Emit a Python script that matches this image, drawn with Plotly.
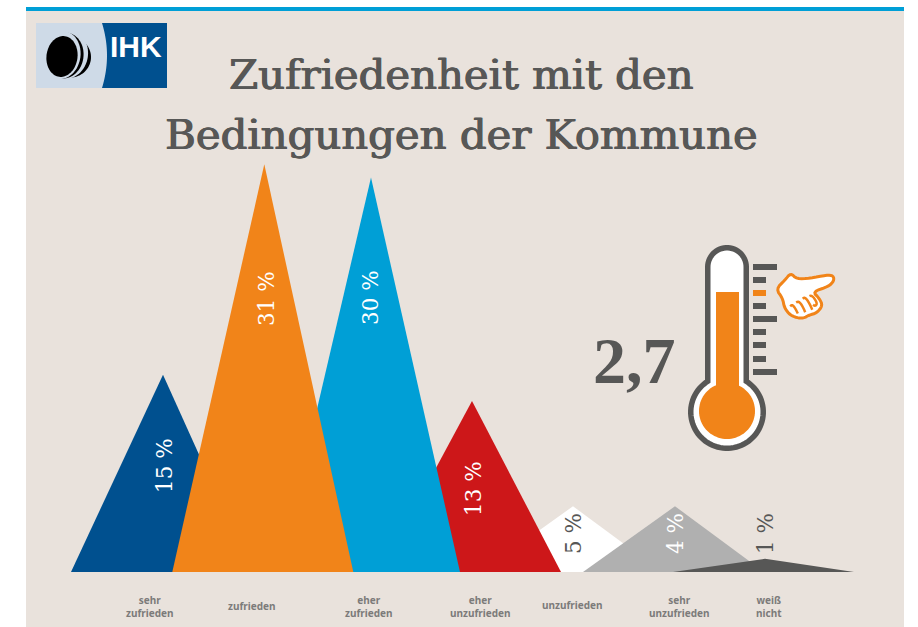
import numpy as np
import plotly.graph_objects as go

# --- data ---
categories = ["sehr<br>zufrieden", "zufrieden", "eher<br>zufrieden", "eher<br>unzufrieden",
              "unzufrieden", "sehr<br>unzufrieden", "weiß<br>nicht"]
value_labels = ["15 %", "31 %", "30 %", "13 %", "5 %", "4 %", "1 %"]
drawn_heights = [15, 31, 30, 13, 5, 5, 1]   # heights as drawn (the 4 % peak is as tall as the 5 % one)
title_lines = ["Zufriedenheit mit den", "Bedingungen der Kommune"]
mean_score = "2,7"

# --- layout helpers ---
W, H = 918, 627
BASE_PX, PX_PER_UNIT = 572, 13.15
apex_x = [163, 264.3, 371, 472, 573, 675, 765]
left_w, right_w = 92, 89
colors = ["#00508F", "#F18419", "#009FD6", "#CD1719", "#FFFFFF", "#B0B0B0", "#575756"]
draw_order = [4, 3, 2, 0, 1, 5, 6]
label_colors = ["#FFFFFF"] * 4 + ["#575756", "#FFFFFF", "#575756"]
label_px_x = [164, 266, 370, 473, 573, 675, 765]
label_px_y = [466, 299, 298, 489, 534, 534, 534]
cat_px_x = [150, 252, 369, 480, 572, 679, 769]
cat_px_y = [606, 606, 606, 606, 605, 606, 606]
DARK = "#575756"; ORANGE = "#F18419"; BEIGE = "#E9E2DC"


def val(py):
    return (BASE_PX - py) / PX_PER_UNIT


fig = go.Figure()
for i in draw_order:
    c, v = apex_x[i], drawn_heights[i]
    fig.add_trace(go.Scatter(x=[c - left_w, c, c + right_w, c - left_w], y=[0, v, 0, 0], mode="lines", fill="toself",
                             fillcolor=colors[i], line=dict(width=0), hoverinfo="skip", showlegend=False))

shapes, ann = [], []


def poly(pts, **kw):
    d = "M" + " L".join(f"{x:.2f},{val(y):.3f}" for x, y in pts) + " Z"
    shapes.append(dict(type="path", path=d, xref="x", yref="y", **kw))


def line_path(pts, color, width):
    d = "M" + " L".join(f"{x:.2f},{val(y):.3f}" for x, y in pts)
    shapes.append(dict(type="path", path=d, xref="x", yref="y", line=dict(color=color, width=width)))


def rect(x0, y0, x1, y1, color, layer="above"):
    shapes.append(dict(type="rect", xref="x", yref="y", x0=x0, x1=x1, y0=val(y0), y1=val(y1),
                       fillcolor=color, line=dict(width=0), layer=layer))


def ellipse(cx, cy, rx, ry, rot=0.0, n=80):
    t = np.linspace(0, 2 * np.pi, n, endpoint=False)
    a = np.radians(rot)
    x, y = rx * np.cos(t), ry * np.sin(t)
    return list(zip(cx + x * np.cos(a) - y * np.sin(a), cy + x * np.sin(a) + y * np.cos(a)))


def chaikin(pts, closed=True, n=2):
    for _ in range(n):
        out = []
        m = len(pts)
        for i in range(m if closed else m - 1):
            p, q = np.array(pts[i]), np.array(pts[(i + 1) % m])
            out += [tuple(.75 * p + .25 * q), tuple(.25 * p + .75 * q)]
        pts = out
    return pts


NOL = dict(line=dict(width=0))
# page furniture
rect(26, 11, 904, 627, BEIGE, layer="below")
rect(26, 7, 904, 11, "#009FD6", layer="below")

# logo
rect(36, 23, 167, 88, "#CEDAE7")
ys = np.linspace(23, 88, 30)
curve = [(107 - 5 * ((y - 55.5) / 32.5) ** 2, y) for y in ys]
poly(curve + [(167, 88), (167, 23)], fillcolor="#00508F", **NOL)
LB = "#CEDAE7"
poly(ellipse(70, 57, 21, 20.5, 8), fillcolor="#000000", **NOL)
poly(ellipse(66, 54, 22, 25, 8), fillcolor=LB, **NOL)
poly(ellipse(64.5, 55.5, 19, 23, 8), fillcolor="#000000", **NOL)
poly(ellipse(61.5, 55, 19, 24, 8), fillcolor=LB, **NOL)
poly(ellipse(62, 56.5, 15.5, 20.5, 8), fillcolor="#000000", **NOL)

# thermometer
cx, tube_top, tube_r, bulb_y, bulb_r = 727, 267, 19.25, 412, 36.25
ang = np.arcsin(tube_r / bulb_r)
t_top = np.linspace(np.pi, 2 * np.pi, 30)
t_b = np.linspace(-np.pi / 2 + ang, 3 * np.pi / 2 - ang, 70)
outline = [(cx + tube_r * np.cos(a), tube_top + tube_r * np.sin(a)) for a in t_top]
outline += [(cx + bulb_r * np.cos(a), bulb_y + bulb_r * np.sin(a)) for a in t_b]
poly(outline, fillcolor="#FFFFFF", line=dict(color=DARK, width=5.5))
poly(ellipse(cx, 411, 28, 28), fillcolor=ORANGE, **NOL)
rect(716, 292, 739, 395, ORANGE)
for i, y in enumerate([267, 280, 293, 306, 319, 332, 345, 359, 372]):
    long_tick = i in (0, 4, 8)
    rect(753, y - 3, 777 if long_tick else 766, y + 3, ORANGE if i == 2 else DARK)

# pointing hand (zoom-space outline converted to pixels)
to_px = lambda p: (670 + p[0] / 3, 235 + p[1] / 3)
hand = [(318, 162), (345, 135), (362, 114), (380, 132), (420, 130), (470, 120), (490, 122), (492, 138),
        (475, 155), (428, 170), (448, 190), (458, 212), (440, 234), (418, 240), (400, 250), (380, 248),
        (360, 240), (343, 218), (338, 190)]
poly([to_px(p) for p in chaikin(hand)], fillcolor="#FFFFFF", line=dict(color=ORANGE, width=3))
for seg in ([(358, 218), (366, 208), (376, 220), (388, 245)],
            [(374, 205), (386, 198), (398, 214), (410, 242)],
            [(394, 194), (405, 186), (418, 204), (432, 236)],
            [(414, 186), (426, 180), (442, 204), (436, 214), (425, 206)]):
    line_path([to_px(p) for p in chaikin(seg, closed=False)], ORANGE, 2.5)

# IHK lettering
ann.append(dict(x=136, y=val(46), text="<b>IHK</b>", font=dict(family="Liberation Sans", size=30, color="#FFFFFF"),
                showarrow=False, xanchor="center", yanchor="middle"))
# title
for line, py in zip(title_lines, [74, 134]):
    ann.append(dict(x=461, y=val(py), text=line, showarrow=False, xanchor="center", yanchor="middle",
                    font=dict(family="DejaVu Serif", size=41.8, color=DARK,
                              shadow="0.7px 0 0 #575756, -0.5px 0 0 #575756")))
# score
ann.append(dict(x=634, y=val(360), text=f"<b>{mean_score}</b>", showarrow=False, xanchor="center", yanchor="middle",
                font=dict(family="Liberation Serif", size=66, color=DARK)))
# value labels
for i, t in enumerate(value_labels):
    ann.append(dict(x=label_px_x[i], y=val(label_px_y[i]), text=t, textangle=-90, showarrow=False,
                    xanchor="center", yanchor="middle",
                    font=dict(family="DejaVu Serif", size=21.5, color=label_colors[i])))
# category labels
for i, t in enumerate(categories):
    ann.append(dict(x=cat_px_x[i], y=val(cat_px_y[i]), text=f"<b>{t}</b>", showarrow=False, xanchor="center",
                    yanchor="middle", font=dict(family="Noto Sans", size=10, color="#7C7B7A")))

fig.update_layout(width=W, height=H, margin=dict(l=0, r=0, t=0, b=0), paper_bgcolor="#FFFFFF",
                  plot_bgcolor="#FFFFFF", shapes=shapes, annotations=ann, showlegend=False,
                  xaxis=dict(range=[0, W], visible=False, fixedrange=True),
                  yaxis=dict(range=[val(H), val(0)], visible=False, fixedrange=True))
fig.write_html("out.html", config=dict(displayModeBar=False),
               post_script="document.body.style.margin='0';document.body.style.overflow='hidden';")
